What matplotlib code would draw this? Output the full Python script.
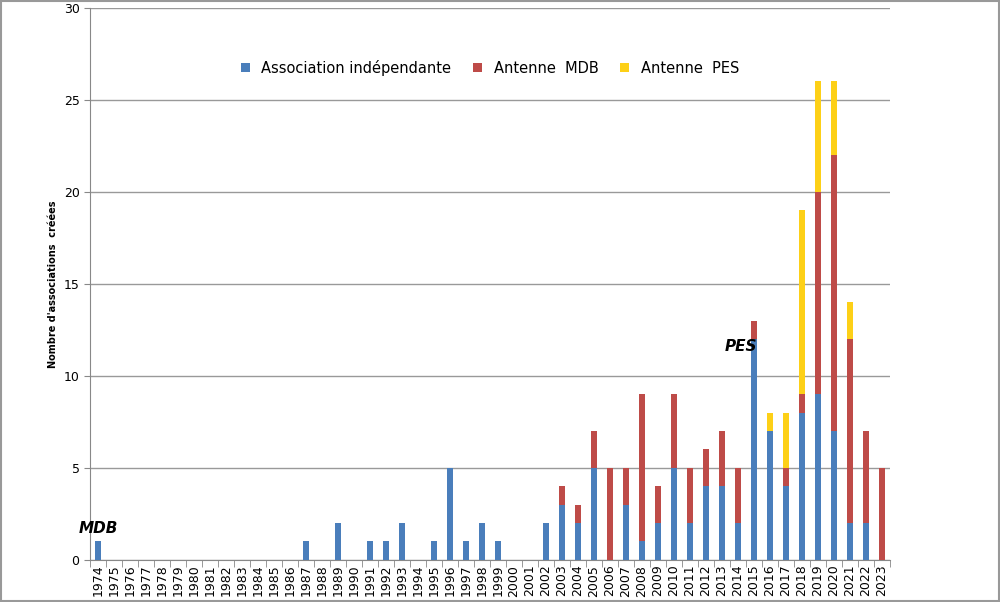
import numpy as np
import matplotlib.pyplot as plt

years = list(range(1974, 2024))
indep = {1974: 1, 1987: 1, 1989: 2, 1991: 1, 1992: 1, 1993: 2, 1995: 1, 1996: 5,
         1997: 1, 1998: 2, 1999: 1, 2002: 2, 2003: 3, 2004: 2, 2005: 5, 2007: 3,
         2008: 1, 2009: 2, 2010: 5, 2011: 2, 2012: 4, 2013: 4, 2014: 2, 2015: 12,
         2016: 7, 2017: 4, 2018: 8, 2019: 9, 2020: 7, 2021: 2, 2022: 2}
mdb = {2003: 1, 2004: 1, 2005: 2, 2006: 5, 2007: 2, 2008: 8, 2009: 2, 2010: 4,
       2011: 3, 2012: 2, 2013: 3, 2014: 3, 2015: 1, 2017: 1, 2018: 1, 2019: 11,
       2020: 15, 2021: 10, 2022: 5, 2023: 5}
pes = {2016: 1, 2017: 3, 2018: 10, 2019: 6, 2020: 4, 2021: 2}

blue = np.array([indep.get(y, 0) for y in years])
red = np.array([mdb.get(y, 0) for y in years])
yellow = np.array([pes.get(y, 0) for y in years])

fig = plt.figure(figsize=(10, 6.02), dpi=100)
fig.patches.append(plt.Rectangle((0.001, 0.001), 0.998, 0.998, transform=fig.transFigure,
                                 fill=False, edgecolor='#999999', lw=1.5))
ax = fig.add_axes([0.09, 0.07, 0.80, 0.917])
x = np.arange(len(years))
w = 0.38
ax.bar(x, blue, w, color='#4a7ebb', label='Association indépendante', zorder=3)
ax.bar(x, red, w, bottom=blue, color='#be4b48', label='Antenne  MDB', zorder=3)
ax.bar(x, yellow, w, bottom=blue + red, color='#fdd017', label='Antenne  PES', zorder=3)

ax.set_xlim(-0.5, len(years) - 0.5)
ax.set_ylim(0, 30)
ax.set_yticks(range(0, 31, 5))
ax.yaxis.grid(True, color='#999999', lw=1, zorder=0)
ax.set_xticks(x)
ax.set_xticklabels([str(y) for y in years], rotation=90, fontsize=9)
ax.set_xticks(np.arange(-0.5, len(years), 1), minor=True)
ax.tick_params(axis='x', which='major', length=0)
ax.tick_params(axis='x', which='minor', length=5, color='#888888')
ax.tick_params(axis='y', labelsize=9, length=4, color='#888888')
for s in ['top', 'right']:
    ax.spines[s].set_visible(False)
for s in ['left', 'bottom']:
    ax.spines[s].set_color('#888888')
ax.set_ylabel("Nombre d'associations  créées", fontsize=7, fontweight='bold')

ax.text(0, 1.3, 'MDB', fontsize=11, fontweight='bold', style='italic', ha='center', va='bottom')
ax.text(years.index(2015) - 0.8, 11.2, 'PES', fontsize=11, fontweight='bold', style='italic', ha='center', va='bottom')

ax.legend(loc='upper center', bbox_to_anchor=(0.5, 0.93), ncol=3, frameon=False,
          fontsize=10.5, handlelength=0.6, handleheight=0.6, columnspacing=1.5)

fig.savefig('out.png', dpi=100)
